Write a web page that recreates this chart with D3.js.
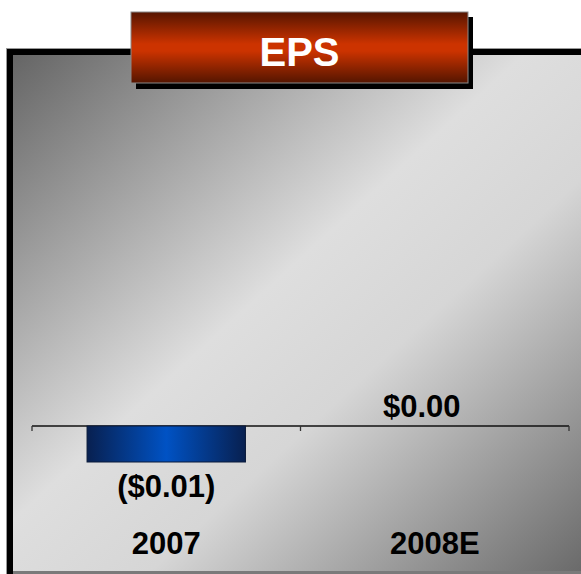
<!DOCTYPE html>
<html>
<head>
<meta charset="utf-8">
<script src="https://cdn.jsdelivr.net/npm/d3@7"></script>
<style>
  body { margin: 0; background: #fff; }
  svg { display: block; }
  text { font-family: "Liberation Sans", Arial, sans-serif; font-weight: bold; }
</style>
</head>
<body>
<div id="chart"></div>
<script>
const width = 581,
    height = 574;

// chart data
const title = "EPS";
const years = ["2007", "2008E"];
const eps = [-0.01, 0.00];
const epsLabels = ["($0.01)", "$0.00"];

const svg = d3.select("div#chart").append("svg")
    .attr("width", width)
    .attr("height", height);

const defs = svg.append("defs");

// panel background: dark corners, light diagonal band
let bg = defs.append("linearGradient")
    .attr("id", "bg")
    .attr("x1", 0).attr("y1", 0)
    .attr("x2", 1).attr("y2", 1);
[[0, "#656565"], [0.45, "#dedede"], [0.62, "#d6d6d6"], [1, "#6a6a6a"]]
    .forEach(s => bg.append("stop").attr("offset", s[0]).attr("stop-color", s[1]));

// title box: dark top/bottom, bright red-orange middle
let tg = defs.append("linearGradient")
    .attr("id", "titleGrad")
    .attr("x1", 0).attr("y1", 0)
    .attr("x2", 0).attr("y2", 1);
[[0, "#561500"], [0.45, "#cc3300"], [0.55, "#cc3300"], [1, "#541500"]]
    .forEach(s => tg.append("stop").attr("offset", s[0]).attr("stop-color", s[1]));

// bar: navy edges, bright blue centre
let bgBar = defs.append("linearGradient")
    .attr("id", "barGrad")
    .attr("x1", 0).attr("y1", 0)
    .attr("x2", 1).attr("y2", 0);
[[0, "#082050"], [0.5, "#0052c4"], [1, "#082050"]]
    .forEach(s => bgBar.append("stop").attr("offset", s[0]).attr("stop-color", s[1]));

// panel frame
svg.append("rect")
    .attr("x", 6).attr("y", 48)
    .attr("width", 600).attr("height", 530)
    .attr("fill", "#999");
svg.append("rect")
    .attr("x", 7).attr("y", 49)
    .attr("width", 600).attr("height", 530)
    .attr("fill", "#000");
svg.append("rect")
    .attr("x", 13).attr("y", 55)
    .attr("width", 568).attr("height", 517)
    .attr("fill", "url(#bg)");
svg.append("rect")
    .attr("x", 13).attr("y", 571)
    .attr("width", 568).attr("height", 3)
    .attr("fill", "#7a7a7a");

// scales
let x = d3.scaleBand()
    .domain(years)
    .range([32, 569])
    .paddingInner(0.41)
    .paddingOuter(0.205);

let y = d3.scaleLinear()
    .domain([-0.01, 0])
    .range([462, 426]);

// category axis along zero, ticks at band edges
let band = d3.scaleBand().domain(years).range([32, 569]);
svg.append("line")
    .attr("x1", 32).attr("x2", 569)
    .attr("y1", y(0)).attr("y2", y(0))
    .attr("stroke", "#111").attr("stroke-width", 1.3);
svg.selectAll("line.tick-mark")
    .data([0, 1, 2])
    .join("line")
    .attr("class", "tick-mark")
    .attr("x1", i => 32 + i * band.step())
    .attr("x2", i => 32 + i * band.step())
    .attr("y1", y(0)).attr("y2", y(0) + 5)
    .attr("stroke", "#333").attr("stroke-width", 1.3);

// bars
svg.selectAll("rect.bar")
    .data(eps)
    .join("rect")
    .attr("class", "bar")
    .attr("x", (d, i) => x(years[i]))
    .attr("y", d => y(Math.max(d, 0)))
    .attr("width", x.bandwidth())
    .attr("height", d => Math.abs(y(d) - y(0)))
    .attr("fill", "url(#barGrad)")
    .attr("stroke", d => d === 0 ? "none" : "#0a1a3a")
    .attr("stroke-width", 1);

// value labels
svg.selectAll("text.value")
    .data(eps)
    .join("text")
    .attr("class", "value")
    .attr("x", (d, i) => x(years[i]) + x.bandwidth() / 2)
    .attr("dx", d => d < 0 ? 0 : -13)
    .attr("y", d => d < 0 ? y(d) + 35 : y(0) - 9)
    .attr("text-anchor", "middle")
    .attr("font-size", 31)
    .attr("fill", "#000")
    .text((d, i) => epsLabels[i]);

// category labels
svg.selectAll("text.year")
    .data(years)
    .join("text")
    .attr("class", "year")
    .attr("x", d => x(d) + x.bandwidth() / 2)
    .attr("y", 554)
    .attr("text-anchor", "middle")
    .attr("font-size", 31)
    .attr("fill", "#000")
    .text(d => d);

// title box with shadow
svg.append("rect")
    .attr("x", 136).attr("y", 17)
    .attr("width", 337).attr("height", 72)
    .attr("fill", "#000");
svg.append("rect")
    .attr("x", 131).attr("y", 12)
    .attr("width", 337).attr("height", 71)
    .attr("fill", "url(#titleGrad)")
    .attr("stroke", "#8a8a8a")
    .attr("stroke-width", 1);
svg.append("text")
    .attr("x", 299.5)
    .attr("y", 66)
    .attr("text-anchor", "middle")
    .attr("font-size", 40)
    .attr("fill", "#fff")
    .text(title);
</script>
</body>
</html>
